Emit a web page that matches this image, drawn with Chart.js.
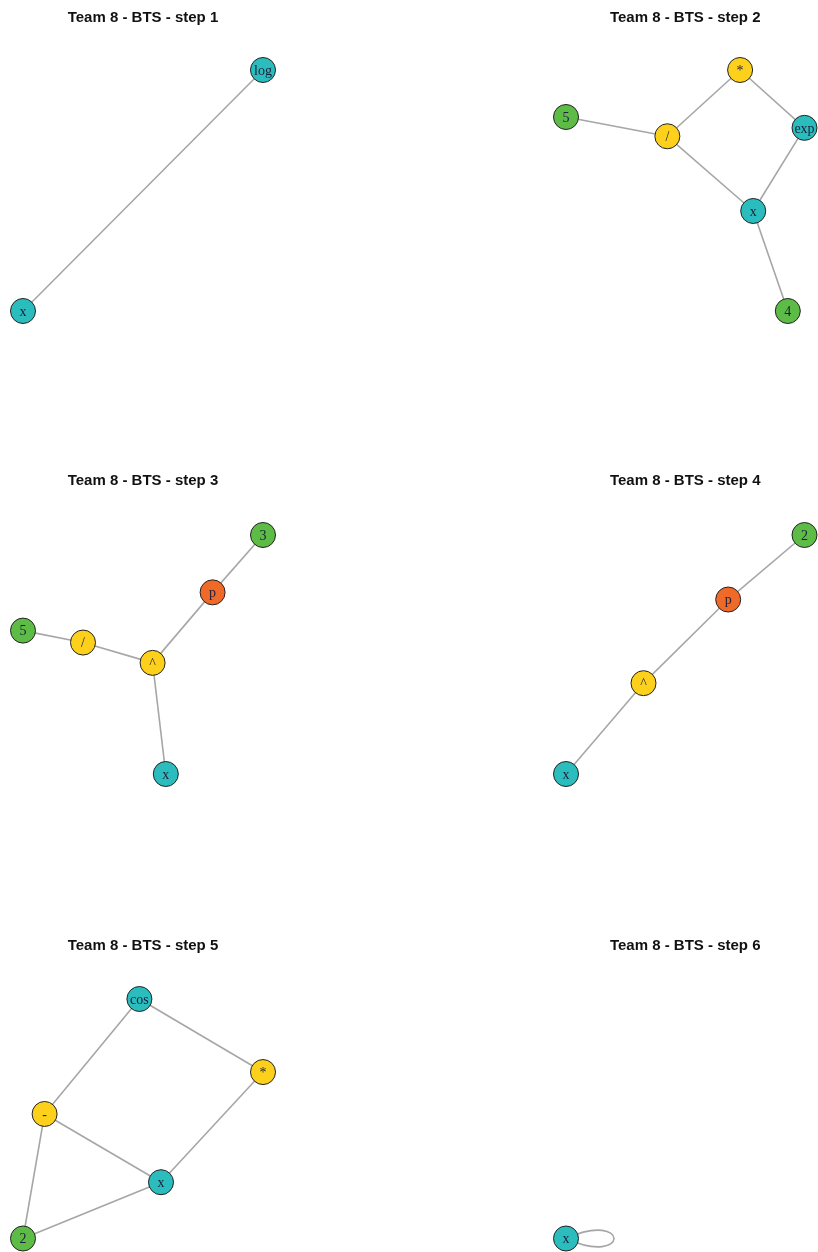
<!DOCTYPE html>
<html>
<head>
<meta charset="utf-8">
<script src="https://cdn.jsdelivr.net/npm/chart.js@4.4.1/dist/chart.umd.min.js"></script>
<style>
  html, body { margin: 0; padding: 0; background: #fff; }
  #wrap { position: relative; width: 818px; height: 1252px; overflow: hidden; }
  #wrap canvas { position: absolute; }
</style>
</head>
<body>
<div id="wrap"></div>
<script>
// node labels, layout coords (-1..1), kinds and edges for each step
const step1Labels = ['x', 'log'];
const step1X = [-1, 1];
const step1Y = [-1, 1];
const step1Kinds = ['var', 'fn'];
const step1Edges = [[0, 1]];

const step2Labels = ['*', '5', '/', 'exp', 'x', '4'];
const step2X = [0.46, -1, -0.15, 1, 0.57, 0.86];
const step2Y = [1, 0.61, 0.45, 0.52, -0.17, -1];
const step2Kinds = ['op', 'num', 'op', 'fn', 'var', 'num'];
const step2Edges = [[1, 2], [2, 0], [0, 3], [3, 4], [2, 4], [4, 5]];

const step3Labels = ['3', 'p', '5', '/', '^', 'x'];
const step3X = [1, 0.58, -1, -0.5, 0.08, 0.19];
const step3Y = [1, 0.52, 0.2, 0.1, -0.07, -1];
const step3Kinds = ['num', 'par', 'num', 'op', 'op', 'var'];
const step3Edges = [[2, 3], [3, 4], [4, 1], [1, 0], [4, 5]];

const step4Labels = ['2', 'p', '^', 'x'];
const step4X = [1, 0.36, -0.35, -1];
const step4Y = [1, 0.46, -0.24, -1];
const step4Kinds = ['num', 'par', 'op', 'var'];
const step4Edges = [[3, 2], [2, 1], [1, 0]];

const step5Labels = ['cos', '*', '-', 'x', '2'];
const step5X = [-0.03, 1, -0.82, 0.15, -1];
const step5Y = [1, 0.39, 0.04, -0.53, -1];
const step5Kinds = ['fn', 'op', 'op', 'var', 'num'];
const step5Edges = [[0, 1], [0, 2], [2, 3], [2, 4], [4, 3], [1, 3]];

const step6Labels = ['x'];
const step6X = [-1];
const step6Y = [-1];
const step6Kinds = ['var'];
const step6Edges = [[0, 0]];

const titles = ['Team 8 - BTS - step 1', 'Team 8 - BTS - step 2', 'Team 8 - BTS - step 3',
  'Team 8 - BTS - step 4', 'Team 8 - BTS - step 5', 'Team 8 - BTS - step 6'];

const kindColors = { var: '#2bbdbd', fn: '#2bbdbd', op: '#fdd11b', num: '#5cbc45', par: '#ef6a28' };

const steps = [
  { labels: step1Labels, xs: step1X, ys: step1Y, kinds: step1Kinds, edges: step1Edges },
  { labels: step2Labels, xs: step2X, ys: step2Y, kinds: step2Kinds, edges: step2Edges },
  { labels: step3Labels, xs: step3X, ys: step3Y, kinds: step3Kinds, edges: step3Edges },
  { labels: step4Labels, xs: step4X, ys: step4Y, kinds: step4Kinds, edges: step4Edges },
  { labels: step5Labels, xs: step5X, ys: step5Y, kinds: step5Kinds, edges: step5Edges },
  { labels: step6Labels, xs: step6X, ys: step6Y, kinds: step6Kinds, edges: step6Edges },
];

// panel placement on the page
const colLeft = [0, 409];
const padLeft = [23, 157];
const padRight = [146, 12];
const rowTop = [0, 463, 928];
const rowHeight = [330, 330, 324];
const titleGap = [43, 45, 44];
const padBottom = [19, 19, 12];

const wrap = document.getElementById('wrap');

// self loops and node labels
const graphPlugin = {
  id: 'graphPlugin',
  beforeDatasetsDraw(chart) {
    const step = chart.options.plugins.graphPlugin.step;
    const pts = chart.getDatasetMeta(0).data;
    const ctx = chart.ctx;
    step.edges.forEach(([a, b]) => {
      if (a !== b) return;
      const p = pts[a];
      ctx.save();
      ctx.strokeStyle = '#a6a6a6';
      ctx.lineWidth = 1.6;
      ctx.beginPath();
      ctx.moveTo(p.x, p.y);
      ctx.bezierCurveTo(p.x + 64, p.y - 29, p.x + 64, p.y + 29, p.x, p.y);
      ctx.stroke();
      ctx.restore();
    });
  },
  afterDatasetsDraw(chart) {
    const step = chart.options.plugins.graphPlugin.step;
    const pts = chart.getDatasetMeta(0).data;
    const ctx = chart.ctx;
    ctx.save();
    ctx.fillStyle = '#1e1e3c';
    ctx.font = '14px "Liberation Serif", "Times New Roman", serif';
    ctx.textAlign = 'center';
    ctx.textBaseline = 'middle';
    pts.forEach((p, i) => {
      ctx.fillText(step.labels[i], p.x, p.y + 1);
    });
    ctx.restore();
  }
};

steps.forEach((step, i) => {
  const col = i % 2;
  const row = Math.floor(i / 2);
  const canvas = document.createElement('canvas');
  canvas.width = 409;
  canvas.height = rowHeight[row];
  canvas.style.left = colLeft[col] + 'px';
  canvas.style.top = rowTop[row] + 'px';
  canvas.style.width = '409px';
  canvas.style.height = rowHeight[row] + 'px';
  wrap.appendChild(canvas);

  const nodes = step.labels.map((l, k) => ({ x: step.xs[k], y: step.ys[k] }));
  const datasets = [{
    data: nodes,
    pointRadius: 12.5,
    pointHoverRadius: 12.5,
    pointBackgroundColor: step.kinds.map(k => kindColors[k]),
    pointBorderColor: '#222',
    pointBorderWidth: 1,
    showLine: false,
    clip: false
  }];
  step.edges.forEach(([a, b]) => {
    if (a === b) return;
    datasets.push({
      data: [{ x: step.xs[a], y: step.ys[a] }, { x: step.xs[b], y: step.ys[b] }],
      showLine: true,
      borderColor: '#a6a6a6',
      borderWidth: 1.6,
      pointRadius: 0,
      pointHoverRadius: 0,
      clip: false
    });
  });

  new Chart(canvas, {
    type: 'scatter',
    data: { datasets },
    options: {
      responsive: false,
      animation: false,
      devicePixelRatio: 1,
      events: [],
      layout: { padding: { left: padLeft[col], right: padRight[col], top: 0, bottom: padBottom[row] } },
      scales: {
        x: { type: 'linear', min: -1, max: 1, display: false },
        y: { type: 'linear', min: -1, max: 1, display: false }
      },
      plugins: {
        legend: { display: false },
        tooltip: { enabled: false },
        title: {
          display: true,
          text: titles[i],
          fullSize: false,
          color: '#111',
          font: { family: '"Liberation Sans", Arial, sans-serif', size: 15, weight: 'bold' },
          padding: { top: 9, bottom: titleGap[row] }
        },
        graphPlugin: { step }
      }
    },
    plugins: [graphPlugin]
  });
});
</script>
</body>
</html>
